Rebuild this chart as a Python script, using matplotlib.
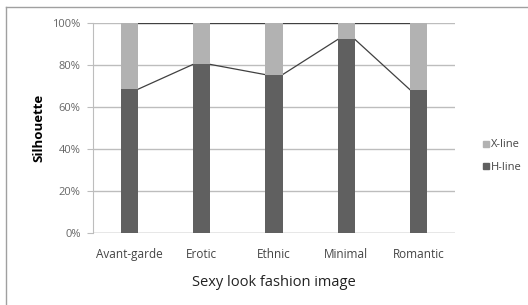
import matplotlib.pyplot as plt
import numpy as np
from matplotlib.lines import Line2D

categories = ["Avant-garde", "Erotic", "Ethnic", "Minimal", "Romantic"]
h_line = [68.4, 80.3, 75.4, 92.2, 68.1]
x_line = [100 - v for v in h_line]

W, H = 528, 305
fig = plt.figure(figsize=(W / 100, H / 100), dpi=100)
plt.rcParams['font.family'] = ['Open Sans', 'DejaVu Sans']

# plot area in pixels: left 93, right 455, top 23, bottom 233
ax = fig.add_axes([93 / W, 1 - 233 / H, (455 - 93) / W, (233 - 23) / H])

dark = "#606060"
light = "#b2b2b2"
x = np.arange(len(categories))
bw = 0.235

ax.bar(x, h_line, bw, color=dark, label="H-line", zorder=3)
ax.bar(x, x_line, bw, bottom=h_line, color=light, label="X-line", zorder=3)

# series lines between stacked tops
for i in range(len(categories) - 1):
    ax.plot([x[i] + bw / 2, x[i + 1] - bw / 2], [h_line[i], h_line[i + 1]],
            color="#404040", lw=0.9, zorder=2)
    ax.plot([x[i] + bw / 2, x[i + 1] - bw / 2], [100, 100],
            color="#404040", lw=0.9, zorder=2)

ax.set_xlim(-0.5, len(categories) - 0.5)
ax.set_ylim(0, 100)
ax.set_yticks(np.arange(0, 101, 20))
ax.set_yticklabels([f"{v}%" for v in range(0, 101, 20)])
ax.set_xticks(x)
ax.set_xticklabels(categories)
ax.yaxis.grid(True, color="#bdbdbd", lw=1, zorder=0)
for s in ["top", "right", "bottom"]:
    ax.spines[s].set_visible(False)
ax.spines["left"].set_color("#bdbdbd")
ax.axhline(0, color="#bdbdbd", lw=1, zorder=1)
ax.tick_params(axis="y", length=4, color="#bdbdbd", labelsize=8, labelcolor="#666666", pad=5)
ax.tick_params(axis="x", length=0, labelsize=8.5, labelcolor="#444444", pad=11)

ax.set_ylabel("Silhouette", fontsize=9.5, fontweight="bold", labelpad=5)
ax.set_xlabel("Sexy look fashion image", fontsize=10.5, labelpad=10, color="#222222")

handles = [Line2D([], [], marker="s", ls="", color=light, markersize=5),
           Line2D([], [], marker="s", ls="", color=dark, markersize=5)]
fig.legend(handles, ["X-line", "H-line"], loc="center left",
           bbox_to_anchor=(470 / W, 1 - 156 / H), frameon=False,
           fontsize=8, handletextpad=0.0, labelspacing=1.0, handlelength=1.0,
           labelcolor="#444444")

# chart border (left and top)
fig.add_artist(Line2D([6 / W, 6 / W], [0, 1 - 7 / H], color="#a0a0a0", lw=1,
                      transform=fig.transFigure))
fig.add_artist(Line2D([6 / W, 1], [1 - 7 / H, 1 - 7 / H], color="#a0a0a0", lw=1,
                      transform=fig.transFigure))

fig.savefig("out.png", dpi=100)
